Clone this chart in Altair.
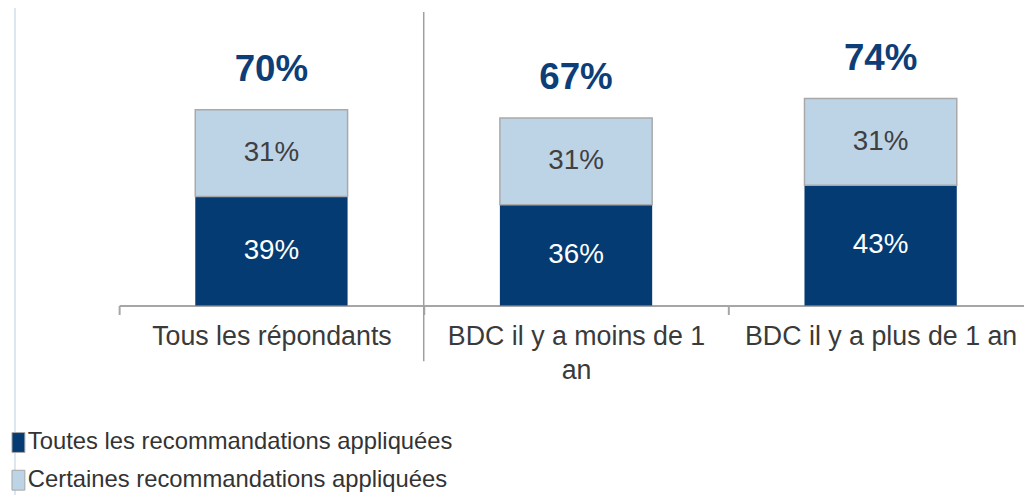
import altair as alt
import pandas as pd

categories = ["Tous les répondants", "BDC il y a moins de 1 an", "BDC il y a plus de 1 an"]
series = ["Toutes les recommandations appliquées", "Certaines recommandations appliquées"]
toutes = [39, 36, 43]
certaines = [31, 31, 31]
totals = [70, 67, 74]

DARK = "#033B72"
LIGHT = "#BDD4E7"
FONT = "Liberation Sans"

rows = []
for c, a, b in zip(categories, toutes, certaines):
    rows.append({"cat": c, "serie": series[0], "ord": 0, "value": a, "label": f"{a}%"})
    rows.append({"cat": c, "serie": series[1], "ord": 1, "value": b, "label": f"{b}%"})
df = pd.DataFrame(rows)
tot_df = pd.DataFrame({"cat": categories, "total": totals, "tl": [f"{t}%" for t in totals]})
sep_df = pd.DataFrame({"cat": [categories[1]]})
edge_df = pd.DataFrame({"k": [0]})

xscale = alt.Scale(domain=categories, range=[0, 921], paddingInner=0, paddingOuter=0)
xaxis = alt.Axis(
    title=None,
    labelAngle=0,
    tickBand="extent",
    domainColor="#A6A6A6",
    domainWidth=2,
    tickColor="#A6A6A6",
    tickWidth=2,
    tickSize=9,
    labelFont=FONT,
    labelFontSize=27,
    labelColor="#3A3A3A",
    labelPadding=9,
    labelLimit=500,
    labelOverlap=False,
    labelLineHeight=34,
    labelExpr="datum.label == 'BDC il y a moins de 1 an' ? ['BDC il y a moins de 1', 'an'] : datum.label",
)
X = alt.X("cat:N", scale=xscale, sort=categories, axis=xaxis)
Y = alt.Y("v0:Q", scale=alt.Scale(domain=[0, 100]), axis=None)

base = alt.Chart(df).transform_stack(
    stack="value", as_=["v0", "v1"], groupby=["cat"], sort=[alt.SortField("ord", order="ascending")]
).transform_calculate(mid="(datum.v0 + datum.v1) / 2")

bars = base.mark_bar(width=alt.RelativeBandSize(0.5), stroke="#A9A9A9").encode(
    x=X,
    y=Y,
    y2="v1:Q",
    color=alt.Color(
        "serie:N",
        scale=alt.Scale(domain=series, range=[DARK, LIGHT]),
        legend=alt.Legend(
            title=None,
            orient="none",
            legendX=-117,
            legendY=408,
            direction="vertical",
            symbolType="M-0.3,-1L1,-1L1,1L-0.3,1Z",
            symbolSize=400,
            symbolStrokeColor="#A6A6A6",
            symbolStrokeWidth=1,
            labelFont=FONT,
            labelFontSize=24,
            labelColor="#333333",
            labelOffset=1,
            labelLimit=700,
            rowPadding=14,
            padding=0,
        ),
    ),
    strokeWidth=alt.condition("datum.ord == 1", alt.value(1.5), alt.value(0)),
)

seg_text = base.mark_text(font=FONT, fontSize=28, baseline="middle").encode(
    x=X,
    y=alt.Y("mid:Q", scale=alt.Scale(domain=[0, 100]), axis=None),
    text="label:N",
    color=alt.condition("datum.ord == 0", alt.value("white"), alt.value("#404040")),
)

tot_text = alt.Chart(tot_df).mark_text(
    font=FONT, fontSize=37, fontWeight="bold", color="#0D3E78", baseline="alphabetic", dy=-29
).encode(
    x=X,
    y=alt.Y("total:Q", scale=alt.Scale(domain=[0, 100]), axis=None),
    text="tl:N",
)

sep = alt.Chart(sep_df).mark_rule(color="#A0A0A0", strokeWidth=1.5).encode(
    x=alt.X("cat:N", scale=xscale, sort=categories, bandPosition=0, axis=xaxis),
    y=alt.value(-14),
    y2=alt.value(338),
)

edge = alt.Chart(edge_df).mark_rule(color="#DCE6F1", strokeWidth=2).encode(
    x=alt.value(-105),
    y=alt.value(-24),
    y2=alt.value(480),
)

chart = alt.layer(edge, sep, bars, seg_text, tot_text).properties(
    width=912,
    height=282,
    padding={"left": 112, "top": 16, "right": 0, "bottom": 189},
    autosize=alt.AutoSizeParams(type="none"),
).configure_view(stroke=None)

chart.save("out.html", embed_options={"renderer": "svg", "actions": False})
